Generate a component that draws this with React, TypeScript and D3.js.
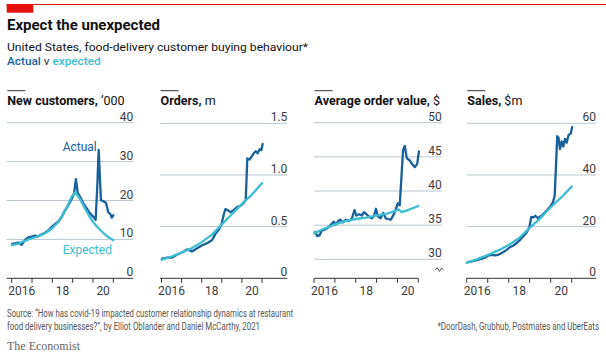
import React from "react";
import * as d3 from "d3";

// ---------- data (decimal year, value) ----------
const customersActual: [number, number][] = [
  [2016.03, 8.9], [2016.16, 9.0], [2016.33, 9.2], [2016.49, 8.6], [2016.66, 9.9], [2016.82, 10.5],
  [2016.98, 10.7], [2017.15, 11.0], [2017.31, 10.8], [2017.48, 11.3], [2017.64, 11.7], [2017.8, 12.3],
  [2017.97, 13.2], [2018.13, 13.9], [2018.3, 14.6], [2018.46, 15.8], [2018.62, 17.4], [2018.79, 18.8],
  [2018.95, 20.4], [2019.07, 21.8], [2019.16, 25.5], [2019.25, 22.0], [2019.36, 21.0], [2019.52, 19.3],
  [2019.69, 18.0], [2019.85, 16.7], [2020.02, 15.8], [2020.13, 15.0], [2020.21, 23.5], [2020.28, 33.0],
  [2020.34, 26.0], [2020.39, 20.1], [2020.51, 19.8], [2020.64, 19.4], [2020.75, 17.0], [2020.87, 16.4],
  [2020.92, 15.6], [2021.0, 16.2],
];
const customersExpected: [number, number][] = [
  [2016.0, 8.5], [2016.25, 8.8], [2016.5, 9.3], [2016.75, 9.8], [2017.0, 10.3], [2017.25, 10.7],
  [2017.5, 11.2], [2017.75, 11.9], [2018.0, 12.9], [2018.25, 14.3], [2018.5, 16.2], [2018.75, 18.6],
  [2018.95, 21.0], [2019.1, 22.0], [2019.2, 21.6], [2019.35, 20.5], [2019.5, 19.0], [2019.75, 16.6],
  [2020.0, 14.5], [2020.25, 13.0], [2020.5, 11.7], [2020.75, 10.6], [2021.0, 9.8],
];
const ordersActual: [number, number][] = [
  [2016.03, 0.19], [2016.28, 0.2], [2016.53, 0.2], [2016.78, 0.23], [2017.03, 0.25], [2017.27, 0.28],
  [2017.52, 0.26], [2017.77, 0.29], [2018.02, 0.32], [2018.27, 0.34], [2018.52, 0.37], [2018.68, 0.43],
  [2018.85, 0.47], [2018.98, 0.52], [2019.1, 0.62], [2019.18, 0.67], [2019.29, 0.66], [2019.43, 0.64],
  [2019.59, 0.66], [2019.76, 0.69], [2019.92, 0.7], [2020.09, 0.73], [2020.19, 0.76], [2020.27, 1.16],
  [2020.39, 1.15], [2020.49, 1.18], [2020.59, 1.21], [2020.69, 1.23], [2020.78, 1.21], [2020.88, 1.25],
  [2020.97, 1.24], [2021.03, 1.3],
];
const ordersExpected: [number, number][] = [
  [2016.0, 0.18], [2016.5, 0.21], [2017.0, 0.25], [2017.5, 0.29], [2018.0, 0.35], [2018.5, 0.42],
  [2019.0, 0.52], [2019.5, 0.62], [2020.0, 0.72], [2020.5, 0.81], [2021.0, 0.92],
];
const aovActual: [number, number][] = [
  [2016.05, 34.0], [2016.16, 33.4], [2016.26, 33.5], [2016.37, 34.2], [2016.48, 34.3], [2016.61, 34.5],
  [2016.77, 34.9], [2016.94, 35.5], [2017.05, 35.1], [2017.16, 35.6], [2017.26, 35.8], [2017.39, 35.4],
  [2017.52, 35.8], [2017.66, 35.6], [2017.82, 36.0], [2017.94, 37.2], [2018.03, 36.4], [2018.16, 36.6],
  [2018.29, 36.4], [2018.39, 36.9], [2018.52, 36.6], [2018.65, 36.2], [2018.77, 36.0], [2018.87, 36.3],
  [2018.97, 37.4], [2019.06, 36.3], [2019.19, 36.0], [2019.32, 36.8], [2019.44, 36.0], [2019.55, 35.9],
  [2019.68, 35.8], [2019.81, 36.5], [2019.92, 37.3], [2020.02, 38.2], [2020.11, 37.9], [2020.19, 42.0],
  [2020.27, 46.0], [2020.35, 46.6], [2020.45, 44.8], [2020.58, 44.5], [2020.71, 43.9], [2020.84, 43.5],
  [2020.95, 44.0], [2021.03, 45.8],
];
const aovExpected: [number, number][] = [
  [2016.0, 33.8], [2016.5, 34.5], [2017.0, 35.1], [2017.5, 35.6], [2018.0, 35.9], [2018.5, 36.1],
  [2019.0, 36.4], [2019.5, 36.7], [2019.9, 37.1], [2020.05, 37.3], [2020.2, 36.9], [2020.5, 37.2],
  [2021.0, 37.8],
];
const salesActual: [number, number][] = [
  [2016.05, 6.3], [2016.24, 6.5], [2016.48, 7.0], [2016.73, 7.6], [2016.89, 8.1], [2017.02, 8.8],
  [2017.18, 9.1], [2017.37, 8.9], [2017.53, 9.2], [2017.73, 10.1], [2017.89, 10.9], [2018.05, 12.0],
  [2018.21, 12.6], [2018.37, 13.6], [2018.53, 14.8], [2018.69, 16.2], [2018.85, 17.6], [2018.98, 19.7],
  [2019.08, 23.8], [2019.18, 23.6], [2019.27, 24.2], [2019.4, 23.3], [2019.53, 24.0], [2019.66, 25.0],
  [2019.82, 26.3], [2019.98, 27.8], [2020.11, 29.5], [2020.19, 32.0], [2020.26, 45.0], [2020.31, 55.0],
  [2020.37, 54.5], [2020.44, 50.0], [2020.52, 53.0], [2020.6, 51.0], [2020.68, 54.0], [2020.76, 52.5],
  [2020.85, 55.5], [2020.95, 56.0], [2021.02, 58.5],
];
const salesExpected: [number, number][] = [
  [2016.0, 6.0], [2016.5, 7.4], [2017.0, 9.0], [2017.5, 10.8], [2018.0, 12.9], [2018.5, 15.6],
  [2019.0, 19.5], [2019.5, 23.2], [2020.0, 27.5], [2020.5, 31.3], [2021.0, 35.5],
];

const yearTicks = [2016, 2017, 2018, 2019, 2020, 2021];
const yearLabels = ["2016", "18", "20"];
const yearLabelYears = [2016, 2018, 2020];

const customersTicks = [0, 10, 20, 30, 40];
const ordersTicks = [0, 0.5, 1.0, 1.5];
const aovTicks = [30, 35, 40, 45, 50];
const salesTicks = [0, 20, 40, 60];

const panelTitles = ["New customers,", "Orders,", "Average order value,", "Sales,"];
const panelUnits = ["’000", "m", "$", "$m"];

// ---------- styling ----------
const ACTUAL = "#17609A";
const EXPECTED = "#3EBCD2";
const GRID = "#B7C6CF";
const AXIS = "#333333";
const FONT = "Roboto, 'Noto Sans', sans-serif";

type PanelCfg = {
  title: string;
  unit: string;
  gridLeft: number;
  gridRight: number;
  tick0: number;
  tick1: number;
  yDomain: [number, number];
  yRange: [number, number];
  ticks: number[];
  fmt: (v: number) => string;
  actual: [number, number][];
  expected: [number, number][];
  broken?: boolean;
};

const BASE = 278.3;

const panels: PanelCfg[] = [
  {
    title: panelTitles[0], unit: panelUnits[0], gridLeft: 6.7, gridRight: 133.3, tick0: 11.7, tick1: 113.3,
    yDomain: [0, 40], yRange: [BASE, 122.7], ticks: customersTicks, fmt: (v) => String(v),
    actual: customersActual, expected: customersExpected,
  },
  {
    title: panelTitles[1], unit: panelUnits[1], gridLeft: 160, gridRight: 287.3, tick0: 161.5, tick1: 262,
    yDomain: [0, 1.5], yRange: [BASE, 123.3], ticks: ordersTicks, fmt: (v) => (v === 0 ? "0" : d3.format(".1f")(v)),
    actual: ordersActual, expected: ordersExpected,
  },
  {
    title: panelTitles[2], unit: panelUnits[2], gridLeft: 314, gridRight: 441.7, tick0: 314, tick1: 418.3,
    yDomain: [30, 50], yRange: [259.3, 122.7], ticks: aovTicks, fmt: (v) => String(v),
    actual: aovActual, expected: aovExpected, broken: true,
  },
  {
    title: panelTitles[3], unit: panelUnits[3], gridLeft: 466.7, gridRight: 596, tick0: 466.7, tick1: 571.7,
    yDomain: [0, 60], yRange: [BASE, 123.3], ticks: salesTicks, fmt: (v) => String(v),
    actual: salesActual, expected: salesExpected,
  },
];

function Panel({ p, idx }: { p: PanelCfg; idx: number }) {
  const x = d3.scaleLinear().domain([2016, 2021]).range([p.tick0, p.tick1]);
  const y = d3.scaleLinear().domain(p.yDomain).range(p.yRange);
  const line = d3
    .line<[number, number]>()
    .x((d) => x(d[0]))
    .y((d) => y(d[1]));
  const titleX = p.gridLeft + 0.6;
  return (
    <g>
      {/* title marker + title */}
      <line x1={titleX} x2={titleX + 18} y1={90.7} y2={90.7} stroke="#333" strokeWidth={1} />
      <text x={titleX} y={105.3} fontFamily={FONT} fontSize={12.5} fill="#121212">
        <tspan fontWeight={700}>{p.title}</tspan>
        <tspan fontWeight={400}> {p.unit}</tspan>
      </text>
      {/* gridlines */}
      {p.ticks.map((t) => {
        const isBase = !p.broken && t === 0;
        return isBase ? null : (
          <line key={"g" + t} x1={p.gridLeft} x2={p.gridRight} y1={y(t)} y2={y(t)} stroke={GRID} strokeWidth={1} />
        );
      })}
      {/* y labels */}
      {p.ticks.map((t) => (
        <text
          key={"yl" + t}
          x={p.gridRight}
          y={y(t) - 2}
          textAnchor="end"
          fontFamily={FONT}
          fontSize={12}
          fill="#3a3a3a"
        >
          {p.fmt(t)}
        </text>
      ))}
      {/* baseline */}
      <line
        x1={p.gridLeft}
        x2={p.broken ? p.tick1 : p.gridRight}
        y1={BASE}
        y2={BASE}
        stroke={AXIS}
        strokeWidth={1}
      />
      {p.broken && (
        <path
          d={`M${p.gridRight - 6.5},${BASE - 8.5} l2,-2 l2.2,3.5 l2.2,-3.2 l1.8,1.6`}
          fill="none"
          stroke={AXIS}
          strokeWidth={0.9}
        />
      )}
      {/* x ticks */}
      {yearTicks.map((yr) => (
        <line key={"xt" + yr} x1={x(yr)} x2={x(yr)} y1={BASE} y2={BASE + 4.5} stroke={AXIS} strokeWidth={1} />
      ))}
      {yearLabelYears.map((yr, i) => (
        <text
          key={"xl" + yr}
          x={x(yr + 0.5)}
          y={294.5}
          textAnchor="middle"
          fontFamily={FONT}
          fontSize={12}
          fill="#3a3a3a"
        >
          {yearLabels[i]}
        </text>
      ))}
      {/* lines */}
      <path d={line(p.actual) || ""} fill="none" stroke={ACTUAL} strokeWidth={2.3} strokeLinejoin="round" strokeLinecap="round" />
      <path d={line(p.expected) || ""} fill="none" stroke={EXPECTED} strokeWidth={2.3} strokeLinejoin="round" strokeLinecap="round" />
      {idx === 0 && (
        <>
          <text x={62.7} y={151} fontFamily={FONT} fontSize={12} fill={ACTUAL}>
            Actual
          </text>
          <text x={62.7} y={253.5} fontFamily={FONT} fontSize={12} fill={EXPECTED}>
            Expected
          </text>
        </>
      )}
    </g>
  );
}

export default function App() {
  return (
    <svg
      width={606}
      height={355}
      viewBox="0 0 606 355"
      style={{ position: "absolute", left: 0, top: 0, display: "block", background: "#fff" }}
    >
      <rect x={0} y={0} width={606} height={355} fill="#fff" />
      {/* top red rule */}
      <line x1={6.7} x2={606} y1={4.5} y2={4.5} stroke="#E3120B" strokeWidth={1} />
      <rect x={6.7} y={4} width={26.6} height={8.7} fill="#E3120B" />
      {/* headings */}
      <text x={7} y={29.5} fontFamily={FONT} fontSize={15} fontWeight={700} fill="#121212">
        Expect the unexpected
      </text>
      <text x={7} y={51.2} fontFamily={FONT} fontSize={11.8} fill="#121212" textLength={301} lengthAdjust="spacingAndGlyphs">
        United States, food-delivery customer buying behaviour*
      </text>
      <text x={7} y={65} fontFamily={FONT} fontSize={11.8}>
        <tspan fill={ACTUAL} fontWeight={500}>Actual</tspan>
        <tspan fill="#333"> v </tspan>
        <tspan fill={EXPECTED} fontWeight={500}>expected</tspan>
      </text>

      {panels.map((p, i) => (
        <Panel key={i} p={p} idx={i} />
      ))}

      {/* footer */}
      <text x={7} y={316.5} fontFamily={FONT} fontSize={10.5} fill="#555" textLength={286} lengthAdjust="spacingAndGlyphs">
        Source: “How has covid-19 impacted customer relationship dynamics at restaurant
      </text>
      <text x={7} y={330} fontFamily={FONT} fontSize={10.5} fill="#555" textLength={253} lengthAdjust="spacingAndGlyphs">
        food delivery businesses?”, by Elliot Oblander and Daniel McCarthy, 2021
      </text>
      <g transform="translate(599,330) scale(0.75,1)">
        <text x={0} y={0} fontFamily={FONT} fontSize={10.5} fill="#555" textAnchor="end">
          *DoorDash, Grubhub, Postmates and UberEats
        </text>
      </g>
      <text x={7} y={350} fontFamily="'Liberation Serif', 'DejaVu Serif', serif" fontSize={12} fill="#666">
        The Economist
      </text>
    </svg>
  );
}
